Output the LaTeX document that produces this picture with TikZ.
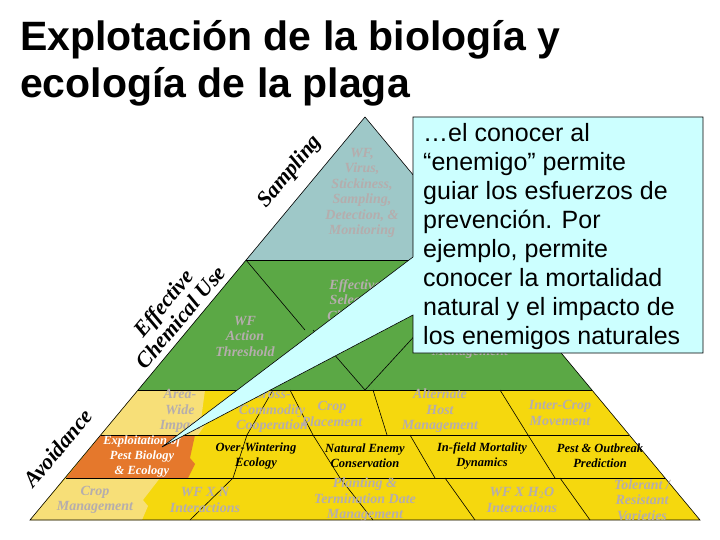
\documentclass[tikz,border=0pt]{standalone}
\usepackage{fontspec}
\setmainfont{Liberation Sans}
\newfontfamily\pyrfont{Liberation Serif}
\definecolor{tealtop}{HTML}{9EC8C8}
\definecolor{grn}{HTML}{5BA845}
\definecolor{yel}{HTML}{F5D80E}
\definecolor{paleyel}{HTML}{F7DF78}
\definecolor{orng}{HTML}{E5782C}
\definecolor{callout}{HTML}{CCFFFF}
\definecolor{faded}{HTML}{B5ADAD}
\tikzset{
  cell/.style={font=\pyrfont\bfseries\itshape\fontsize{14}{15.5}\selectfont, align=center, text=faded, inner sep=0pt},
  dark/.style={cell, text=black, font=\pyrfont\bfseries\itshape\fontsize{12.5}{15}\selectfont},
  side/.style={font=\pyrfont\bfseries\itshape\fontsize{22}{22}\selectfont, align=center, rotate=50},
  edge/.style={draw=black, line width=0.6pt}
}
\begin{document}
\begin{tikzpicture}[x=1pt, y=-1pt]
	\useasboundingbox (0,0) rectangle (720,540);
	% title
	\node[anchor=north west, align=left, inner sep=0pt, font=\bfseries\fontsize{41}{47}\selectfont] (title) at (20,20)
		{Explotación de la biología y\\ecología de la plaga};
	% pyramid levels
	\fill[tealtop] (365,117) -- (484,260) -- (246,260) -- cycle;
	\fill[grn] (246,260) -- (484,260) -- (592,390) -- (138,390) -- cycle;
	\fill[yel] (138,390) -- (592,390) -- (700,520) -- (30,520) -- cycle;
	\fill[paleyel] (138,390) -- (205,390) -- (201,420) -- (205,425) -- (198,435) -- (101,435) -- cycle;
	\fill[orng] (101,435) -- (195,435) -- (190,458) -- (195,464) -- (188,478) -- (66,478) -- cycle;
	\fill[paleyel] (66,478) -- (160,478) -- (143,500) -- (148,506) -- (142,520) -- (30,520) -- cycle;
	\draw[edge] (365,117) -- (700,520) -- (30,520) -- cycle;
	\draw[edge] (246,260) -- (484,260);
	\draw[edge] (138,390) -- (592,390);
	\draw[edge] (101,435) -- (629,435);
	\draw[edge] (66,478) -- (665,478);
	\draw[edge] (246,260) -- (305,330) (365,390) -- (420,330) (365,390) -- (313,330);
	\draw[edge] (273,390) -- (247,435) (290,390) -- (313,435) (373,390) -- (387,435) (500,390) -- (528,435);
	\draw[edge] (247,435) -- (233,478) (313,435) -- (340,478) (410,435) -- (435,478) (528,435) -- (555,478);
	\draw[edge] (233,478) -- (190,520) (340,478) -- (373,520) (445,478) -- (475,520) (560,478) -- (590,520);
	% cell texts
	\node[cell] (samp) at (362,193) {WF,\\Virus,\\Stickiness,\\Sampling,\\Detection, \&\\Monitoring};
	\node[cell] (thresh) at (245,336) {WF\\Action\\Threshold};
	\node[cell] (selchem) at (355,300) {Effective\\Selective\\Chemical};
	\node[cell] (mgmt) at (470,352) {Management};
	\node[cell] (area) at (180,411) {Area-\\Wide\\Impact};
	\node[cell] (cross) at (272,411) {Cross-\\Commodity\\Cooperation};
	\node[cell] (place) at (332,414) {Crop\\Placement};
	\node[cell] (alt) at (440,411) {Alternate\\Host\\Management};
	\node[cell] (inter) at (560,413) {Inter-Crop\\Movement};
	\node[dark, text=white] (exploit) at (142,456) {Exploitation of\\Pest Biology\\\& Ecology};
	\node[dark] (winter) at (256,456) {Over-Wintering\\Ecology};
	\node[dark] (enemy) at (365,456) {Natural Enemy\\Conservation};
	\node[dark] (mort) at (482,456) {In-field Mortality\\Dynamics};
	\node[dark] (outb) at (600,456) {Pest \& Outbreak\\Prediction};
	\node[cell] (cropm) at (95,500) {Crop\\Management};
	\node[cell] (wfn) at (205,500) {WF X N\\Interactions};
	\node[cell] (plant) at (365,500) {Planting \&\\Termination Date\\Management};
	\node[cell] (wfh) at (522,500) {WF X H$_2$O\\Interactions};
	\node[cell] (toler) at (642,500) {Tolerant /\\Resistant\\Varieties};
	% side labels
	\node[side] (sampling) at (290,172) {Sampling};
	\node[side] (chem) at (172,310) {Effective\\Chemical Use};
	\node[side] (avoid) at (58,448) {Avoidance};
	% callout
	\coordinate (tip) at (162,447);
	\path[fill=callout, edge] (413,117) -- (703,117) -- (703,353) -- (413,353) -- (413,315) -- (tip) -- (413,257) -- cycle;
	\node[anchor=north west, align=left, font=\fontsize{25}{29}\selectfont, inner sep=0pt] (note) at (423,123)
		{…el conocer al\\“enemigo” permite\\guiar los esfuerzos de\\prevención. Por\\ejemplo, permite\\conocer la mortalidad\\natural y el impacto de\\los enemigos naturales};
\end{tikzpicture}
\end{document}
